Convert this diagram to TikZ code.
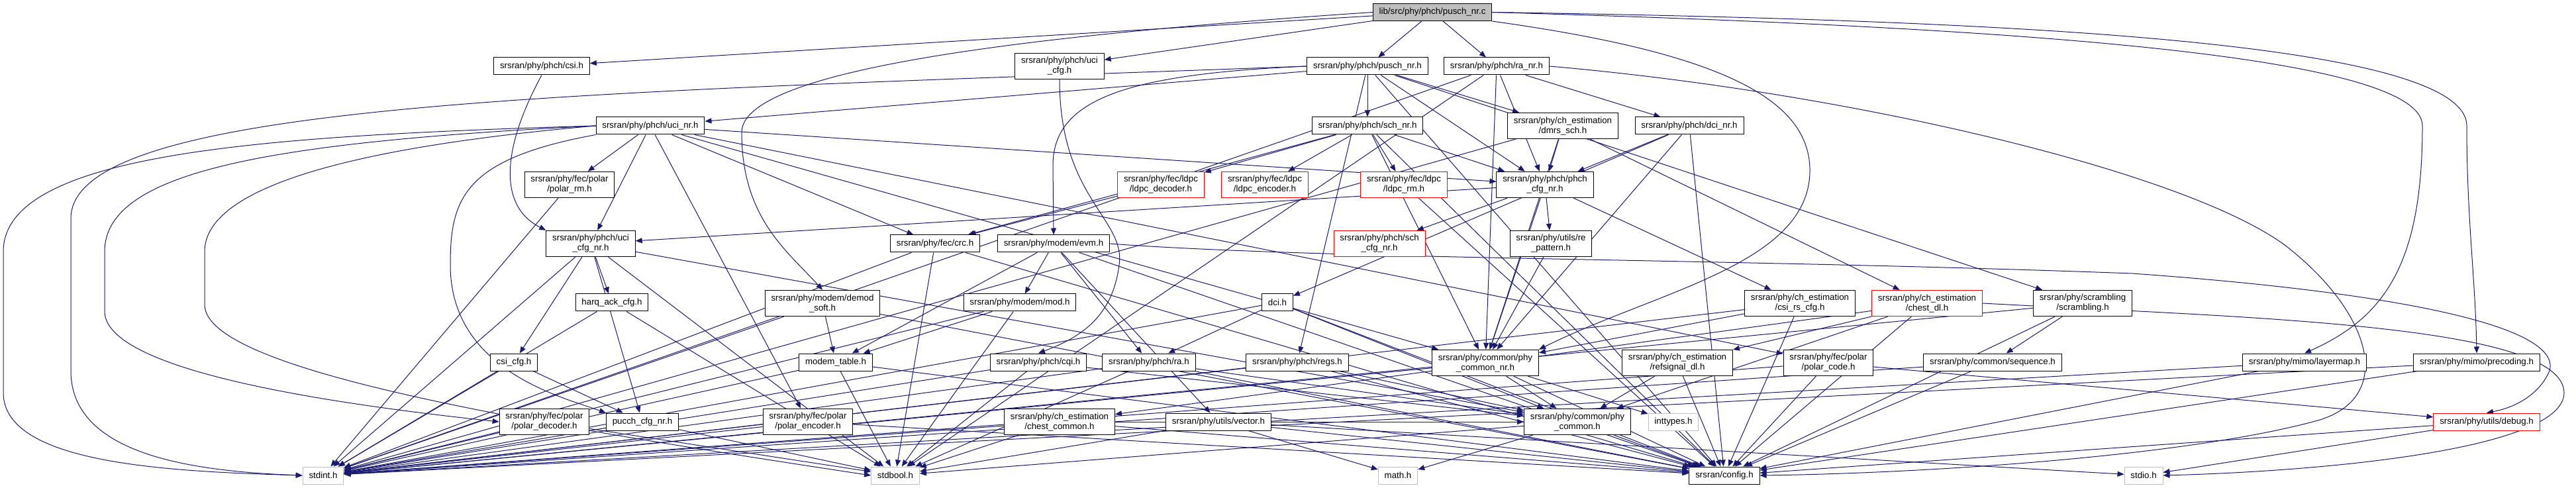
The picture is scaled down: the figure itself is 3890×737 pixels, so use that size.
\documentclass[tikz,border=0pt]{standalone}
\usepackage{fontspec}
\setmainfont{Liberation Sans}
\usepackage{tikz}
\usetikzlibrary{
  arrows.meta
}
\definecolor{edgeBlue}{HTML}{191970}
\definecolor{rootGray}{HTML}{BFBFBF}
\definecolor{sysGray}{HTML}{BFBFBF}
\definecolor{truncRed}{HTML}{FF0000}
\pgfdeclarelayer{edges}
\pgfsetlayers{edges,main}
\tikzset{
  hdrNode/.style={
    rectangle,
    draw=black,
    fill=white,
    line width=0.75pt,
    inner xsep=7pt,
    inner ysep=4.5pt,
    minimum height=19.5pt,
    align=center,
    font=\fontsize{10pt}{11.25pt}\selectfont
  },
  hdrRoot/.style={
    hdrNode,
    fill=rootGray
  },
  hdrTrunc/.style={
    hdrNode,
    draw=truncRed
  },
  hdrSys/.style={
    hdrNode,
    draw=sysGray
  },
  hdrArrow/.style={
    -{Triangle[length=7.5pt,width=6pt]},
    line width=0.75pt,
    draw=edgeBlue
  }
}

\begin{document}
\begin{tikzpicture}[x=0.75pt, y=-0.75pt]
  \useasboundingbox (0,0) rectangle (3890,737);

  % source file
  \node[hdrRoot] (root) at (2163,18.5) {lib/src/phy/phch/pusch\_nr.c};

  % headers, top to bottom
  \node[hdrNode] (csi) at (818,100) {srsran/phy/phch/csi.h};
  \node[hdrNode] (uciCfg) at (1600,100) {srsran/phy/phch/uci\\\_cfg.h};
  \node[hdrNode] (puschH) at (2065,100) {srsran/phy/phch/pusch\_nr.h};
  \node[hdrNode] (raNr) at (2260,100) {srsran/phy/phch/ra\_nr.h};

  \node[hdrNode] (uciNr) at (982,190) {srsran/phy/phch/uci\_nr.h};
  \node[hdrNode] (schNr) at (2065,190) {srsran/phy/phch/sch\_nr.h};
  \node[hdrNode] (dmrsSch) at (2360,190) {srsran/phy/ch\_estimation\\/dmrs\_sch.h};
  \node[hdrNode] (dciNr) at (2551,190) {srsran/phy/phch/dci\_nr.h};

  \node[hdrNode] (polarRm) at (860,279) {srsran/phy/fec/polar\\/polar\_rm.h};
  \node[hdrTrunc] (ldpcDec) at (1753,279) {srsran/phy/fec/ldpc\\/ldpc\_decoder.h};
  \node[hdrTrunc] (ldpcEnc) at (1910,279) {srsran/phy/fec/ldpc\\/ldpc\_encoder.h};
  \node[hdrTrunc] (ldpcRm) at (2120,279) {srsran/phy/fec/ldpc\\/ldpc\_rm.h};
  \node[hdrNode] (phchCfg) at (2333,279) {srsran/phy/phch/phch\\\_cfg\_nr.h};

  \node[hdrNode] (uciCfgNr) at (892,368) {srsran/phy/phch/uci\\\_cfg\_nr.h};
  \node[hdrNode] (crc) at (1412,368) {srsran/phy/fec/crc.h};
  \node[hdrNode] (evm) at (1591,368) {srsran/phy/modem/evm.h};
  \node[hdrTrunc] (schCfg) at (2083,368) {srsran/phy/phch/sch\\\_cfg\_nr.h};
  \node[hdrNode] (rePattern) at (2342,368) {srsran/phy/utils/re\\\_pattern.h};

  \node[hdrNode] (harqAck) at (924,457) {harq\_ack\_cfg.h};
  \node[hdrNode] (demodSoft) at (1242,458) {srsran/phy/modem/demod\\\_soft.h};
  \node[hdrNode] (modemMod) at (1540,457) {srsran/phy/modem/mod.h};
  \node[hdrNode] (dci) at (1929,457) {dci.h};
  \node[hdrNode] (csiRsCfg) at (2718,458) {srsran/phy/ch\_estimation\\/csi\_rs\_cfg.h};
  \node[hdrTrunc] (chestDl) at (2910,458) {srsran/phy/ch\_estimation\\/chest\_dl.h};
  \node[hdrNode] (scrambling) at (3145,458) {srsran/phy/scrambling\\/scrambling.h};

  \node[hdrNode] (csiCfg) at (776,547) {csi\_cfg.h};
  \node[hdrNode] (modemTable) at (1262,547) {modem\_table.h};
  \node[hdrNode] (cqi) at (1568,547) {srsran/phy/phch/cqi.h};
  \node[hdrNode] (raLte) at (1735,547) {srsran/phy/phch/ra.h};
  \node[hdrNode] (regs) at (1959,547) {srsran/phy/phch/regs.h};
  \node[hdrNode] (phyCommonNr) at (2243,548) {srsran/phy/common/phy\\\_common\_nr.h};
  \node[hdrNode] (refsignalDl) at (2533,548) {srsran/phy/ch\_estimation\\/refsignal\_dl.h};
  \node[hdrNode] (polarCode) at (2761,548) {srsran/phy/fec/polar\\/polar\_code.h};
  \node[hdrNode] (sequence) at (3009,547) {srsran/phy/common/sequence.h};
  \node[hdrNode] (layermap) at (3480,547) {srsran/phy/mimo/layermap.h};
  \node[hdrNode] (precoding) at (3740,547) {srsran/phy/mimo/precoding.h};

  \node[hdrNode] (polarDec) at (822,637) {srsran/phy/fec/polar\\/polar\_decoder.h};
  \node[hdrNode] (pucchCfg) at (970,637) {pucch\_cfg\_nr.h};
  \node[hdrNode] (polarEnc) at (1220,637) {srsran/phy/fec/polar\\/polar\_encoder.h};
  \node[hdrNode] (chestCommon) at (1600,637) {srsran/phy/ch\_estimation\\/chest\_common.h};
  \node[hdrNode] (vector) at (1840,637) {srsran/phy/utils/vector.h};
  \node[hdrNode] (phyCommon) at (2382,637) {srsran/phy/common/phy\\\_common.h};
  \node[hdrSys] (inttypes) at (2527,637) {inttypes.h};
  \node[hdrTrunc] (debug) at (3755,637) {srsran/phy/utils/debug.h};

  % bottom row
  \node[hdrSys] (stdint) at (488,718) {stdint.h};
  \node[hdrSys] (stdbool) at (1352,718) {stdbool.h};
  \node[hdrSys] (math) at (2111,718) {math.h};
  \node[hdrNode] (config) at (2604,718) {srsran/config.h};
  \node[hdrSys] (stdio) at (3237,718) {stdio.h};

  \begin{pgfonlayer}{edges}
  % pusch_nr.c
  \draw[hdrArrow] (root) -- (puschH);
  \draw[hdrArrow] (root) -- (raNr);
  \draw[hdrArrow] (root) -- (csi);
  \draw[hdrArrow] (root) -- (uciCfg);
  \draw[hdrArrow] (root.west) .. controls (1600,50) and (1120,100) .. (1120,200) .. controls (1120,330) and (1190,380) .. (demodSoft.north);
  \draw[hdrArrow] (root.east) .. controls (3000,40) and (3658,80) .. (3658,190) .. controls (3658,400) and (3600,480) .. (layermap.north);
  \draw[hdrArrow] (root.east) .. controls (3000,30) and (3725,60) .. (3725,190) .. controls (3725,330) and (3738,420) .. (precoding.north);
  \draw[hdrArrow] (root.south east) .. controls (2600,80) and (2735,150) .. (2733,260) .. controls (2730,400) and (2500,440) .. (phyCommonNr.north east);

  % pusch_nr.h
  \draw[hdrArrow] (puschH) -- (uciNr);
  \draw[hdrArrow] (puschH) -- (schNr);
  \draw[hdrArrow] (puschH) -- (dmrsSch);
  \draw[hdrArrow] (puschH) -- (phchCfg);
  \draw[hdrArrow] (puschH.west) .. controls (1700,112) and (1590,150) .. (1590,250) -- (evm.north);
  \draw[hdrArrow] (puschH) -- (regs);
  \draw[hdrArrow] (puschH) -- (scrambling);
  \draw[hdrArrow] (puschH) -- (config);
  \draw[hdrArrow] (puschH.west) .. controls (900,140) and (107,150) .. (107,330) -- (107,560) .. controls (107,690) and (300,712) .. (stdint.west);

  % ra_nr.h
  \draw[hdrArrow] (raNr) -- (dciNr);
  \draw[hdrArrow] (raNr) -- (phchCfg);
  \draw[hdrArrow] (raNr) -- (phyCommonNr);
  \draw[hdrArrow] (raNr.east) .. controls (2800,140) and (3300,260) .. (3450,370) .. controls (3580,470) and (3620,600) .. (3500,635) .. controls (3300,690) and (2900,715) .. (config.east);
  \draw[hdrArrow] (raNr) -- (stdint);
  \draw[hdrArrow] (raNr) -- (stdbool);

  % csi.h, uci_cfg.h
  \draw[hdrArrow] (csi.south) .. controls (760,220) and (750,310) .. (uciCfgNr.north west);
  \draw[hdrArrow] (uciCfg.south) .. controls (1600,300) and (1700,330) .. (1690,400) .. controls (1680,480) and (1630,510) .. (cqi.north);

  % uci_nr.h
  \draw[hdrArrow] (uciNr) -- (polarRm);
  \draw[hdrArrow] (uciNr) -- (uciCfgNr);
  \draw[hdrArrow] (uciNr) -- (polarEnc);
  \draw[hdrArrow] (uciNr.west) .. controls (400,215) and (158,260) .. (158,380) -- (158,470) .. controls (158,560) and (500,610) .. (polarDec.west);
  \draw[hdrArrow] (uciNr) -- (polarCode);
  \draw[hdrArrow] (uciNr) -- (crc);
  \draw[hdrArrow] (uciNr) -- (phchCfg);
  \draw[hdrArrow] (uciNr) -- (phyCommonNr);
  \draw[hdrArrow] (uciNr.south west) .. controls (700,240) and (680,300) .. (680,400) .. controls (680,560) and (850,600) .. (pucchCfg.north west);
  \draw[hdrArrow] (uciNr.west) .. controls (400,205) and (5,230) .. (5,380) -- (5,593) .. controls (5,700) and (250,712) .. (stdint.west);
  \draw[hdrArrow] (uciNr.west) .. controls (500,225) and (309,290) .. (309,380) -- (309,460) .. controls (309,560) and (800,640) .. (stdbool.west);

  % sch_nr.h
  \draw[hdrArrow] (schNr) -- (ldpcDec);
  \draw[hdrArrow] (schNr) -- (ldpcEnc);
  \draw[hdrArrow] (schNr) -- (ldpcRm);
  \draw[hdrArrow] (schNr) -- (crc);
  \draw[hdrArrow] (schNr) -- (phchCfg);
  \draw[hdrArrow] (schNr) -- (phyCommonNr);
  \draw[hdrArrow] (schNr) -- (config);

  % dmrs_sch.h, dci_nr.h
  \draw[hdrArrow] (dmrsSch) -- (phchCfg);
  \draw[hdrArrow] (dmrsSch) -- (chestDl);
  \draw[hdrArrow] (dmrsSch) -- (phyCommonNr);
  \draw[hdrArrow] (dmrsSch) -- (stdint);
  \draw[hdrArrow] (dciNr) -- (phchCfg);
  \draw[hdrArrow] (dciNr) -- (dci);
  \draw[hdrArrow] (dciNr) -- (phyCommonNr);
  \draw[hdrArrow] (dciNr) -- (config);

  % ldpc
  \draw[hdrArrow] (ldpcDec) -- (crc);
  \draw[hdrArrow] (ldpcRm) -- (config);

  % phch_cfg_nr.h
  \draw[hdrArrow] (phchCfg) -- (uciCfgNr);
  \draw[hdrArrow] (phchCfg) -- (schCfg);
  \draw[hdrArrow] (phchCfg) -- (rePattern);
  \draw[hdrArrow] (phchCfg) -- (phyCommonNr);
  \draw[hdrArrow] (phchCfg) -- (csiRsCfg);
  \draw[hdrArrow] (rePattern) -- (phyCommonNr);

  % uci_cfg_nr.h and friends
  \draw[hdrArrow] (uciCfgNr) -- (csiCfg);
  \draw[hdrArrow] (uciCfgNr) -- (harqAck);
  \draw[hdrArrow] (uciCfgNr) -- (pucchCfg);
  \draw[hdrArrow] (uciCfgNr) -- (phyCommon);
  \draw[hdrArrow] (uciCfgNr) -- (stdint);
  \draw[hdrArrow] (uciCfgNr) -- (stdbool);
  \draw[hdrArrow] (csiCfg) -- (pucchCfg);
  \draw[hdrArrow] (csiCfg) -- (stdint);
  \draw[hdrArrow] (harqAck) -- (stdint);
  \draw[hdrArrow] (harqAck) -- (stdbool);
  \draw[hdrArrow] (pucchCfg) -- (stdint);
  \draw[hdrArrow] (pucchCfg) -- (stdbool);

  % polar
  \draw[hdrArrow] (polarDec) -- (stdint);
  \draw[hdrArrow] (polarDec) -- (stdbool);
  \draw[hdrArrow] (polarEnc) -- (stdint);
  \draw[hdrArrow] (polarEnc) -- (config);
  \draw[hdrArrow] (polarRm) -- (stdint);
  \draw[hdrArrow] (polarCode) -- (config);
  \draw[hdrArrow] (polarCode) -- (stdint);
  \draw[hdrArrow] (polarCode) -- (debug);

  % crc.h
  \draw[hdrArrow] (crc) -- (stdint);
  \draw[hdrArrow] (crc) -- (stdbool);
  \draw[hdrArrow] (crc) -- (config);

  % modem
  \draw[hdrArrow] (evm) -- (modemMod);
  \draw[hdrArrow] (evm) -- (modemTable);
  \draw[hdrArrow] (evm) -- (raLte);
  \draw[hdrArrow] (evm) -- (vector);
  \draw[hdrArrow] (evm.east) .. controls (2000,392) and (2600,390) .. (3220,413) .. controls (3600,440) and (3870,490) .. (3850,560) .. controls (3835,595) and (3800,615) .. (debug.north);
  \draw[hdrArrow] (evm) -- (config);
  \draw[hdrArrow] (modemMod) -- (modemTable);
  \draw[hdrArrow] (modemMod) -- (stdint);
  \draw[hdrArrow] (modemMod) -- (stdbool);
  \draw[hdrArrow] (modemTable) -- (stdint);
  \draw[hdrArrow] (modemTable) -- (stdbool);
  \draw[hdrArrow] (modemTable) -- (config);
  \draw[hdrArrow] (demodSoft) -- (modemTable);
  \draw[hdrArrow] (demodSoft) -- (stdint);
  \draw[hdrArrow] (demodSoft) -- (config);

  % lte phch
  \draw[hdrArrow] (cqi) -- (stdint);
  \draw[hdrArrow] (cqi) -- (stdbool);
  \draw[hdrArrow] (cqi) -- (phyCommon);
  \draw[hdrArrow] (raLte) -- (phyCommon);
  \draw[hdrArrow] (raLte) -- (stdint);
  \draw[hdrArrow] (raLte) -- (stdbool);
  \draw[hdrArrow] (raLte) -- (config);
  \draw[hdrArrow] (dci) -- (raLte);
  \draw[hdrArrow] (dci) -- (phyCommon);
  \draw[hdrArrow] (dci) -- (config);
  \draw[hdrArrow] (dci) -- (stdint);
  \draw[hdrArrow] (regs) -- (phyCommon);
  \draw[hdrArrow] (regs) -- (stdint);
  \draw[hdrArrow] (regs) -- (config);

  % channel estimation
  \draw[hdrArrow] (chestCommon) -- (phyCommon);
  \draw[hdrArrow] (chestCommon) -- (stdint);
  \draw[hdrArrow] (chestCommon) -- (stdbool);
  \draw[hdrArrow] (chestCommon) -- (config);
  \draw[hdrArrow] (chestDl) -- (chestCommon);
  \draw[hdrArrow] (chestDl) -- (refsignalDl);
  \draw[hdrArrow] (chestDl) -- (phyCommon);
  \draw[hdrArrow] (chestDl) -- (config);
  \draw[hdrArrow] (chestDl.east) .. controls (3400,480) and (3870,490) .. (3872,593) .. controls (3872,680) and (3500,712) .. (stdio.east);
  \draw[hdrArrow] (refsignalDl) -- (phyCommon);
  \draw[hdrArrow] (refsignalDl) -- (config);
  \draw[hdrArrow] (csiRsCfg) -- (phyCommonNr);
  \draw[hdrArrow] (csiRsCfg) -- (stdint);
  \draw[hdrArrow] (csiRsCfg) -- (config);

  % utils
  \draw[hdrArrow] (vector) -- (stdbool);
  \draw[hdrArrow] (vector) -- (stdio);
  \draw[hdrArrow] (vector) -- (config);
  \draw[hdrArrow] (vector) -- (math);
  \draw[hdrArrow] (debug) -- (stdio);
  \draw[hdrArrow] (debug) -- (config);

  % common
  \draw[hdrArrow] (phyCommonNr) -- (phyCommon);
  \draw[hdrArrow] (phyCommonNr) -- (inttypes);
  \draw[hdrArrow] (phyCommonNr) -- (config);
  \draw[hdrArrow] (phyCommonNr) -- (stdint);
  \draw[hdrArrow] (phyCommon) -- (math);
  \draw[hdrArrow] (phyCommon) -- (config);
  \draw[hdrArrow] (phyCommon) -- (stdbool);

  % scrambling, mimo
  \draw[hdrArrow] (sequence) -- (config);
  \draw[hdrArrow] (sequence) -- (stdint);
  \draw[hdrArrow] (scrambling) -- (sequence);
  \draw[hdrArrow] (scrambling) -- (config);
  \draw[hdrArrow] (scrambling) -- (stdint);
  \draw[hdrArrow] (layermap) -- (config);
  \draw[hdrArrow] (layermap) -- (stdint);
  \draw[hdrArrow] (precoding) -- (config);
  \draw[hdrArrow] (precoding) -- (stdint);
  \end{pgfonlayer}
\end{tikzpicture}
\end{document}
